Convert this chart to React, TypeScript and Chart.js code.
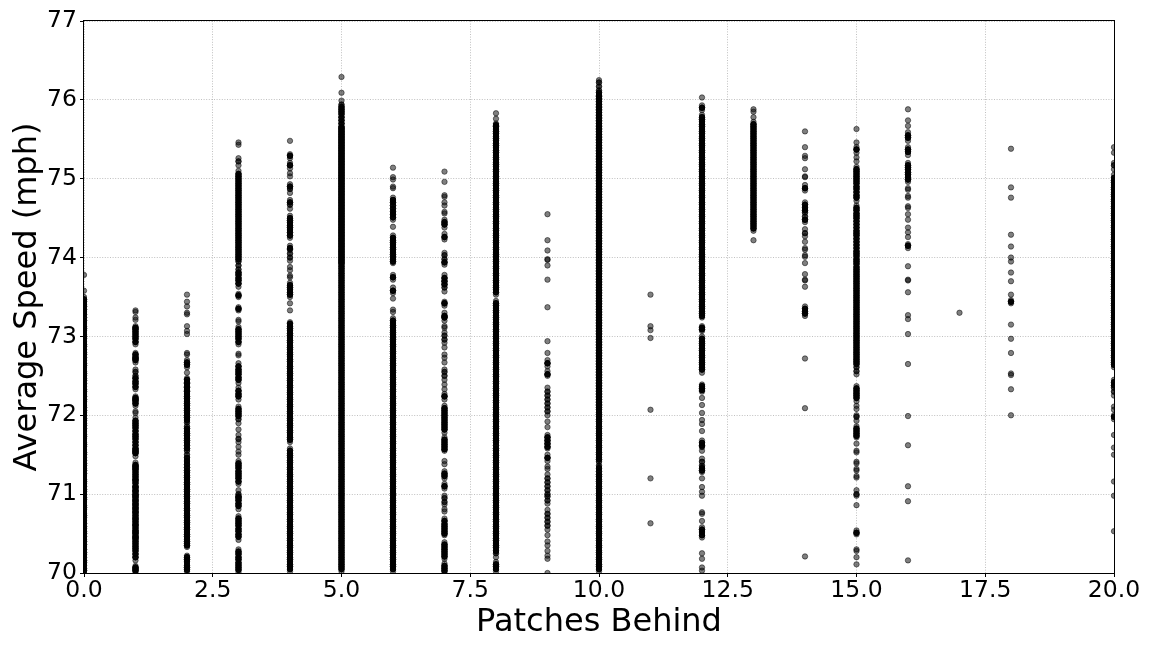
import React, { useEffect, useRef } from "react";
import { Chart, registerables } from "chart.js";

Chart.register(...registerables);

const behind0 = [73.78,73.58,73.5,73.47,73.44,73.41,73.38,73.34,73.31,73.28,73.24,73.2,73.17,73.13,73.1,73.07,73.03,73,72.97,72.93,72.9,72.87,72.83,72.8,72.77,72.73,72.7,72.66,72.63,72.6,72.56,72.53,72.5,72.47,72.44,72.4,72.37,72.33,72.3,72.27,72.24,72.2,72.17,72.13,72.1,72.06,72.03,72,71.96,71.93,71.9,71.87,71.83,71.8,71.76,71.73,71.7,71.66,71.63,71.6,71.56,71.53,71.5,71.46,71.43,71.39,71.36,71.33,71.3,71.26,71.23,71.19,71.16,71.13,71.1,71.06,71.03,71,70.96,70.93,70.9,70.86,70.83,70.8,70.76,70.73,70.7,70.66,70.63,70.59,70.56,70.53,70.5,70.46,70.43,70.4,70.36,70.33,70.3,70.26,70.23,70.2,70.16,70.13,70.1,70.06,70.03,70];
const behind1 = [73.33,73.31,73.24,73.21,73.13,73.11,73.09,73.06,73.03,73,72.97,72.93,72.9,72.79,72.77,72.74,72.72,72.7,72.67,72.58,72.55,72.5,72.47,72.43,72.4,72.36,72.33,72.24,72.22,72.2,72.18,72.15,72.12,72.05,72.03,71.97,71.93,71.9,71.87,71.84,71.8,71.76,71.73,71.7,71.66,71.62,71.58,71.56,71.54,71.52,71.48,71.4,71.37,71.35,71.33,71.31,71.28,71.25,71.22,71.19,71.17,71.14,71.1,71.08,71.05,71.03,71,70.98,70.96,70.93,70.91,70.88,70.86,70.83,70.81,70.78,70.76,70.73,70.7,70.68,70.65,70.62,70.6,70.57,70.54,70.52,70.5,70.47,70.45,70.43,70.4,70.37,70.34,70.31,70.28,70.24,70.2,70.16,70.09,70.07,70.05,70.03,70.01];
const behind2 = [73.53,73.44,73.38,73.3,73.28,73.13,73.07,73.03,72.79,72.77,72.7,72.67,72.64,72.61,72.54,72.47,72.45,72.42,72.4,72.37,72.35,72.32,72.3,72.27,72.24,72.21,72.18,72.15,72.12,72.09,72.06,72.03,72,71.97,71.94,71.91,71.86,71.83,71.8,71.77,71.74,71.71,71.68,71.65,71.62,71.58,71.55,71.5,71.46,71.42,71.38,71.34,71.3,71.27,71.24,71.21,71.18,71.15,71.12,71.09,71.06,71.03,71,70.97,70.94,70.91,70.88,70.85,70.82,70.79,70.76,70.73,70.7,70.67,70.64,70.61,70.58,70.55,70.52,70.49,70.46,70.43,70.4,70.37,70.35,70.33,70.22,70.2,70.17,70.14,70.1,70.07,70.04,70.02];
const behind3 = [75.46,75.43,75.26,75.22,75.17,75.1,75.06,75.03,75,74.97,74.94,74.91,74.88,74.85,74.82,74.79,74.76,74.73,74.7,74.67,74.64,74.61,74.58,74.55,74.52,74.49,74.46,74.43,74.4,74.37,74.34,74.31,74.28,74.25,74.22,74.19,74.16,74.13,74.1,74.07,74.04,74.01,73.98,73.95,73.9,73.85,73.81,73.78,73.74,73.71,73.67,73.63,73.54,73.52,73.5,73.37,73.35,73.33,73.21,73.19,73.12,73.09,73.06,73.03,73,72.97,72.93,72.9,72.78,72.76,72.66,72.62,72.58,72.55,72.52,72.48,72.45,72.41,72.35,72.31,72.27,72.24,72.2,72.11,72.08,72.05,72.02,71.99,71.95,71.9,71.82,71.75,71.7,71.66,71.6,71.54,71.5,71.42,71.39,71.36,71.33,71.29,71.26,71.23,71.2,71.16,71.13,71.05,71,70.97,70.95,70.92,70.88,70.85,70.81,70.72,70.69,70.66,70.63,70.6,70.56,70.53,70.49,70.46,70.42,70.3,70.27,70.24,70.2,70.17,70.13,70.1,70.07,70.04,70.01];
const behind4 = [75.48,75.31,75.29,75.26,75.2,75.17,75.13,75.07,75.03,74.93,74.9,74.87,74.82,74.73,74.7,74.67,74.62,74.53,74.5,74.47,74.44,74.41,74.38,74.35,74.32,74.28,74.25,74.15,74.12,74.1,74.05,74,73.96,73.88,73.84,73.77,73.75,73.68,73.65,73.62,73.59,73.56,73.53,73.5,73.42,73.33,73.18,73.16,73.13,73.1,73.07,73.04,73.01,72.98,72.95,72.92,72.89,72.86,72.83,72.8,72.77,72.74,72.71,72.68,72.65,72.62,72.59,72.56,72.53,72.5,72.47,72.44,72.41,72.38,72.35,72.32,72.29,72.26,72.23,72.2,72.17,72.14,72.11,72.08,72.05,72.02,71.99,71.96,71.93,71.9,71.87,71.84,71.81,71.78,71.75,71.72,71.69,71.66,71.58,71.55,71.52,71.49,71.46,71.43,71.4,71.37,71.34,71.31,71.28,71.25,71.22,71.19,71.16,71.13,71.1,71.07,71.04,71.01,70.98,70.95,70.92,70.89,70.86,70.83,70.8,70.77,70.74,70.71,70.68,70.65,70.62,70.59,70.56,70.53,70.5,70.47,70.44,70.41,70.38,70.35,70.32,70.29,70.26,70.23,70.2,70.17,70.14,70.11,70.08,70.05,70.02];
const behind5 = [76.29,76.09,75.99,75.94,75.91,75.88,75.85,75.82,75.78,75.74,75.7,75.66,75.64,75.62,75.6,75.58,75.56,75.54,75.52,75.5,75.48,75.46,75.44,75.42,75.4,75.38,75.36,75.34,75.32,75.3,75.28,75.26,75.24,75.22,75.2,75.18,75.16,75.14,75.12,75.1,75.08,75.06,75.04,75.02,75,74.98,74.96,74.94,74.92,74.9,74.88,74.86,74.84,74.82,74.8,74.78,74.76,74.74,74.72,74.7,74.68,74.66,74.64,74.62,74.6,74.58,74.56,74.54,74.52,74.5,74.48,74.46,74.44,74.42,74.4,74.38,74.36,74.34,74.32,74.3,74.28,74.26,74.24,74.22,74.2,74.18,74.16,74.14,74.12,74.1,74.08,74.06,74.04,74.02,74,73.98,73.96,73.94,73.92,73.89,73.86,73.83,73.8,73.77,73.74,73.71,73.68,73.65,73.62,73.59,73.56,73.53,73.5,73.47,73.44,73.41,73.38,73.35,73.32,73.29,73.26,73.23,73.2,73.17,73.14,73.11,73.08,73.05,73.02,72.99,72.96,72.93,72.9,72.87,72.84,72.81,72.78,72.75,72.72,72.69,72.66,72.63,72.6,72.57,72.54,72.51,72.48,72.45,72.42,72.39,72.36,72.33,72.3,72.27,72.24,72.21,72.18,72.15,72.12,72.09,72.06,72.03,72,71.97,71.94,71.91,71.88,71.85,71.82,71.79,71.76,71.73,71.7,71.67,71.64,71.61,71.58,71.55,71.52,71.49,71.46,71.43,71.4,71.37,71.34,71.31,71.28,71.25,71.22,71.19,71.16,71.13,71.1,71.07,71.04,71.01,70.98,70.95,70.92,70.89,70.86,70.83,70.8,70.77,70.74,70.71,70.68,70.65,70.62,70.59,70.56,70.53,70.5,70.47,70.44,70.41,70.38,70.35,70.32,70.29,70.26,70.23,70.2,70.17,70.14,70.11,70.08,70.05,70.02];
const behind6 = [75.14,75.02,74.99,74.9,74.88,74.76,74.73,74.7,74.66,74.62,74.58,74.55,74.51,74.48,74.39,74.28,74.25,74.22,74.19,74.16,74.13,74.1,74.07,74.04,74.01,73.98,73.95,73.93,73.78,73.75,73.72,73.62,73.58,73.55,73.48,73.34,73.31,73.23,73.2,73.17,73.14,73.11,73.08,73.05,73.02,72.99,72.96,72.93,72.9,72.87,72.84,72.81,72.78,72.75,72.72,72.69,72.66,72.63,72.6,72.57,72.54,72.51,72.48,72.45,72.42,72.39,72.36,72.33,72.3,72.27,72.24,72.21,72.18,72.15,72.12,72.09,72.06,72.03,72,71.97,71.94,71.91,71.88,71.85,71.82,71.79,71.76,71.73,71.7,71.67,71.64,71.61,71.58,71.55,71.52,71.49,71.46,71.43,71.4,71.37,71.34,71.31,71.28,71.25,71.22,71.19,71.16,71.13,71.1,71.07,71.04,71.01,70.98,70.95,70.92,70.89,70.86,70.83,70.8,70.77,70.74,70.71,70.68,70.65,70.62,70.59,70.56,70.53,70.5,70.47,70.44,70.41,70.38,70.35,70.32,70.29,70.26,70.23,70.2,70.17,70.14,70.11,70.08,70.05,70.02];
const behind7 = [75.09,74.96,74.79,74.77,74.7,74.66,74.58,74.56,74.48,74.45,74.42,74.38,74.3,74.26,74.23,74.06,74.03,73.98,73.94,73.91,73.78,73.74,73.7,73.66,73.62,73.57,73.44,73.42,73.39,73.3,73.26,73.24,73.2,73.13,73.11,73.05,73.01,72.96,72.92,72.86,72.77,72.73,72.67,72.58,72.55,72.5,72.45,72.39,72.33,72.27,72.24,72.2,72.12,72.09,72.06,72.03,72,71.97,71.94,71.91,71.88,71.85,71.82,71.78,71.72,71.69,71.66,71.63,71.6,71.57,71.55,71.42,71.38,71.29,71.26,71.23,71.2,71.13,71.1,71.07,70.98,70.95,70.9,70.87,70.81,70.78,70.69,70.66,70.62,70.59,70.56,70.53,70.5,70.48,70.39,70.36,70.33,70.3,70.27,70.24,70.21,70.18,70.12,70.09,70.06,70.03,70.01];
const behind8 = [75.83,75.76,75.7,75.68,75.66,75.63,75.6,75.57,75.54,75.51,75.48,75.45,75.42,75.39,75.36,75.33,75.3,75.27,75.24,75.21,75.18,75.15,75.12,75.09,75.06,75.03,75,74.97,74.94,74.91,74.88,74.85,74.82,74.79,74.76,74.73,74.7,74.67,74.64,74.61,74.58,74.55,74.52,74.49,74.46,74.43,74.4,74.37,74.34,74.31,74.28,74.25,74.22,74.19,74.16,74.13,74.1,74.07,74.04,74.01,73.98,73.95,73.92,73.89,73.86,73.83,73.8,73.77,73.74,73.71,73.68,73.65,73.62,73.59,73.56,73.53,73.45,73.42,73.39,73.36,73.33,73.3,73.27,73.24,73.21,73.18,73.15,73.12,73.09,73.06,73.03,73,72.97,72.94,72.91,72.88,72.85,72.82,72.79,72.76,72.73,72.7,72.67,72.64,72.61,72.58,72.55,72.52,72.49,72.46,72.43,72.4,72.37,72.34,72.31,72.28,72.25,72.22,72.19,72.16,72.13,72.1,72.07,72.04,72.01,71.98,71.95,71.92,71.89,71.86,71.83,71.8,71.77,71.74,71.71,71.68,71.66,71.62,71.58,71.55,71.52,71.49,71.46,71.43,71.4,71.37,71.34,71.31,71.28,71.25,71.22,71.19,71.16,71.13,71.1,71.07,71.04,71.01,70.98,70.95,70.92,70.89,70.86,70.83,70.8,70.77,70.74,70.71,70.68,70.65,70.62,70.59,70.56,70.53,70.5,70.47,70.44,70.41,70.38,70.35,70.32,70.28,70.25,70.2,70.14,70.11,70.08,70.05,70.02];
const behind9 = [74.55,74.22,74.09,73.98,73.97,73.9,73.72,73.37,72.94,72.79,72.7,72.66,72.62,72.56,72.52,72.5,72.35,72.3,72.25,72.2,72.15,72.1,72.05,72,71.92,71.85,71.75,71.72,71.68,71.64,71.6,71.58,71.5,71.46,71.42,71.35,71.32,71.25,71.2,71.15,71.1,71.05,71,70.97,70.92,70.88,70.8,70.75,70.7,70.65,70.6,70.55,70.48,70.4,70.35,70.28,70.22,70.18,70];
const behind10 = [76.25,76.22,76.17,76.12,76.09,76.06,76.04,76.02,76,75.98,75.96,75.94,75.92,75.9,75.88,75.86,75.84,75.82,75.8,75.78,75.76,75.74,75.72,75.7,75.68,75.66,75.64,75.62,75.6,75.58,75.56,75.54,75.52,75.5,75.48,75.46,75.44,75.42,75.4,75.38,75.36,75.34,75.32,75.3,75.28,75.26,75.24,75.22,75.2,75.18,75.16,75.14,75.12,75.1,75.08,75.06,75.04,75.02,75,74.98,74.96,74.94,74.92,74.9,74.88,74.86,74.84,74.82,74.8,74.78,74.76,74.74,74.72,74.7,74.68,74.66,74.64,74.62,74.6,74.58,74.56,74.54,74.52,74.5,74.48,74.46,74.44,74.42,74.4,74.38,74.36,74.34,74.32,74.3,74.28,74.26,74.24,74.22,74.2,74.18,74.16,74.14,74.12,74.1,74.08,74.06,74.04,74.02,74,73.98,73.96,73.94,73.92,73.9,73.88,73.86,73.84,73.82,73.8,73.78,73.76,73.74,73.72,73.7,73.68,73.66,73.64,73.62,73.6,73.58,73.56,73.54,73.52,73.5,73.48,73.46,73.44,73.42,73.4,73.38,73.36,73.34,73.32,73.3,73.28,73.26,73.24,73.22,73.2,73.18,73.16,73.14,73.12,73.1,73.08,73.06,73.04,73.02,73,72.98,72.96,72.94,72.92,72.9,72.88,72.86,72.84,72.82,72.8,72.78,72.76,72.74,72.72,72.7,72.68,72.66,72.64,72.62,72.6,72.58,72.56,72.54,72.52,72.5,72.48,72.46,72.44,72.42,72.4,72.38,72.36,72.34,72.32,72.3,72.28,72.26,72.24,72.22,72.2,72.18,72.16,72.14,72.12,72.1,72.07,72.04,72.01,71.98,71.95,71.92,71.89,71.86,71.83,71.8,71.77,71.74,71.71,71.68,71.65,71.62,71.59,71.56,71.53,71.5,71.47,71.44,71.41,71.36,71.33,71.29,71.25,71.22,71.19,71.16,71.13,71.1,71.07,71.04,71.01,70.98,70.95,70.92,70.89,70.86,70.83,70.8,70.77,70.74,70.71,70.68,70.65,70.62,70.59,70.56,70.53,70.5,70.47,70.44,70.41,70.38,70.35,70.32,70.29,70.26,70.23,70.2,70.17,70.14,70.11,70.08,70.05,70.02];
const behind11 = [73.53,73.13,73.08,72.98,72.07,71.2,70.63];
const behind12 = [76.03,75.93,75.9,75.87,75.81,75.78,75.75,75.72,75.69,75.66,75.63,75.6,75.57,75.54,75.51,75.48,75.45,75.42,75.39,75.36,75.33,75.3,75.27,75.24,75.21,75.18,75.15,75.12,75.09,75.06,75.03,75,74.97,74.94,74.91,74.88,74.85,74.82,74.79,74.76,74.73,74.7,74.67,74.64,74.61,74.58,74.55,74.52,74.49,74.46,74.43,74.4,74.37,74.34,74.31,74.28,74.25,74.22,74.19,74.16,74.13,74.1,74.07,74.04,74.01,73.98,73.95,73.92,73.89,73.86,73.83,73.8,73.77,73.74,73.71,73.68,73.65,73.62,73.59,73.56,73.53,73.5,73.47,73.44,73.41,73.38,73.35,73.32,73.29,73.26,73.24,73.13,73.11,73.09,73.07,73,72.97,72.94,72.91,72.88,72.85,72.82,72.79,72.76,72.73,72.7,72.67,72.64,72.61,72.58,72.54,72.39,72.37,72.34,72.32,72.3,72.22,72.13,72.03,71.94,71.89,71.8,71.68,71.65,71.62,71.6,71.55,71.45,71.41,71.36,71.33,71.3,71.28,71.2,71.09,71.03,70.98,70.77,70.75,70.66,70.58,70.55,70.52,70.48,70.45,70.25,70.18,70.07,70.03];
const behind13 = [75.88,75.85,75.78,75.72,75.69,75.66,75.63,75.6,75.57,75.54,75.51,75.48,75.45,75.42,75.39,75.36,75.33,75.3,75.27,75.24,75.21,75.18,75.15,75.12,75.09,75.06,75.03,75,74.97,74.94,74.91,74.88,74.85,74.82,74.79,74.76,74.73,74.7,74.67,74.64,74.61,74.58,74.55,74.52,74.49,74.46,74.43,74.4,74.37,74.34,74.22];
const behind14 = [75.6,75.4,75.29,75.26,75.12,75.03,75.02,74.92,74.88,74.85,74.7,74.67,74.63,74.6,74.57,74.52,74.48,74.45,74.36,74.31,74.27,74.2,74.12,74.1,74.03,74.01,73.93,73.79,73.72,73.71,73.63,73.38,73.35,73.32,73.29,73.26,72.72,72.09,70.21];
const behind15 = [75.63,75.46,75.4,75.37,75.33,75.27,75.22,75.15,75.12,75.09,75.06,75.03,75,74.97,74.94,74.9,74.87,74.83,74.79,74.76,74.72,74.66,74.63,74.6,74.56,74.53,74.5,74.46,74.42,74.38,74.34,74.31,74.28,74.24,74.2,74.16,74.12,74.08,74.05,74.02,73.98,73.95,73.92,73.88,73.85,73.82,73.79,73.76,73.73,73.7,73.67,73.64,73.61,73.58,73.55,73.52,73.49,73.46,73.43,73.4,73.37,73.34,73.31,73.28,73.25,73.22,73.19,73.16,73.13,73.1,73.07,73.04,73.01,72.98,72.95,72.92,72.89,72.86,72.83,72.8,72.77,72.74,72.71,72.68,72.65,72.61,72.56,72.52,72.37,72.34,72.31,72.28,72.25,72.22,72.18,72.12,72.08,72,71.98,71.93,71.86,71.83,71.8,71.77,71.74,71.72,71.64,71.55,71.53,71.41,71.39,71.32,71.3,71.23,71.21,71.05,71,70.98,70.86,70.54,70.51,70.49,70.3,70.28,70.2,70.11];
const behind16 = [75.88,75.74,75.67,75.59,75.55,75.52,75.48,75.4,75.37,75.34,75.3,75.2,75.17,75.14,75.12,75.08,75.05,75.02,74.99,74.96,74.88,74.86,74.78,74.76,74.65,74.63,74.55,74.48,74.38,74.32,74.26,74.17,74.15,74.12,73.89,73.72,73.71,73.56,73.27,73.22,73.03,72.65,71.99,71.62,71.1,70.91,70.16];
const behind17 = [73.3];
const behind18 = [75.38,74.89,74.76,74.29,74.14,74,73.95,73.81,73.7,73.53,73.46,73.44,73.42,73.15,72.97,72.79,72.53,72.51,72.33,72];
const behind20 = [75.4,75.33,75.2,75.17,75.12,75.05,75.01,74.98,74.95,74.92,74.89,74.86,74.83,74.8,74.77,74.74,74.71,74.68,74.65,74.62,74.59,74.56,74.53,74.5,74.47,74.44,74.41,74.38,74.35,74.32,74.29,74.26,74.23,74.2,74.17,74.14,74.11,74.08,74.05,74.02,73.99,73.96,73.93,73.9,73.87,73.84,73.81,73.78,73.75,73.72,73.69,73.66,73.63,73.6,73.57,73.54,73.51,73.48,73.45,73.42,73.39,73.36,73.33,73.3,73.27,73.24,73.21,73.18,73.15,73.12,73.09,73.06,73.03,73,72.97,72.94,72.91,72.88,72.85,72.82,72.79,72.76,72.73,72.7,72.67,72.64,72.61,72.45,72.42,72.38,72.35,72.3,72.25,72.11,72.07,72,71.98,71.95,71.75,71.59,71.5,71.16,70.98,70.53];

const patchesBehind = [0,1,2,3,4,5,6,7,8,9,10,11,12,13,14,15,16,17,18,20];
const speedColumns = [behind0,behind1,behind2,behind3,behind4,behind5,behind6,behind7,behind8,behind9,behind10,behind11,behind12,behind13,behind14,behind15,behind16,behind17,behind18,behind20];

const xAxisTitle = "Patches Behind";
const yAxisTitle = "Average Speed (mph)";

const framePlugin = {
  id: "frame",
  afterDraw(chart: any) {
    const { ctx, chartArea: a } = chart;
    ctx.save();
    ctx.strokeStyle = "#000";
    ctx.lineWidth = 1;
    ctx.strokeRect(Math.round(a.left) - 0.5, Math.round(a.top) - 0.5, Math.round(a.right - a.left) + 1, Math.round(a.bottom - a.top) + 1);
    ctx.restore();
  },
};

// Points inside a run of close readings overprint many times in the original.
function overprinted(gap: number) {
  return patchesBehind.flatMap((x, i) =>
    speedColumns[i]
      .filter((y, k, col) => k > 0 && k < col.length - 1 && col[k - 1] - y <= gap && y - col[k + 1] <= gap)
      .map((y) => ({ x, y })),
  );
}

export default function App() {
  const ref = useRef<HTMLCanvasElement | null>(null);
  useEffect(() => {
    document.body.style.margin = "0";
    const points = patchesBehind.flatMap((x, i) => speedColumns[i].map((y) => ({ x, y })));
    const font = "'DejaVu Sans'";
    const grid = { color: "#b0b0b0", lineWidth: 0.8, tickColor: "#000", tickLength: 4, tickWidth: 1 };
    const border = { display: false, dash: [1, 1.6] };
    const style = {
      clip: 0,
      backgroundColor: "rgba(0,0,0,0.5)",
      borderColor: "rgba(0,0,0,0.5)",
      borderWidth: 1,
      pointRadius: 2.7,
      pointHoverRadius: 2.7,
    };
    const chart = new Chart(ref.current!, {
      type: "scatter",
      data: {
        datasets: [
          { ...style, data: points },
          { ...style, data: overprinted(0.056) },
          { ...style, data: overprinted(0.041) },
          { ...style, data: overprinted(0.041) },
        ],
      },
      plugins: [framePlugin],
      options: {
        animation: false,
        responsive: false,
        events: [],
        layout: { padding: { left: 0, right: 38, top: 21, bottom: 0 } },
        plugins: { legend: { display: false }, tooltip: { enabled: false } },
        scales: {
          x: {
            type: "linear", min: 0, max: 20,
            grid, border,
            afterFit(s: any) { s.height = 75; },
            ticks: { stepSize: 2.5, maxRotation: 0, color: "#000", padding: 0, font: { family: font, size: 23.5 }, callback: (v: any) => Number(v).toFixed(1) },
            title: { display: true, text: xAxisTitle, color: "#000", font: { family: font, size: 32 }, padding: { top: 0, bottom: 6 } },
          },
          y: {
            type: "linear", min: 70, max: 77,
            grid, border,
            afterFit(s: any) { s.width = 84; },
            ticks: { stepSize: 1, color: "#000", padding: 3, font: { family: font, size: 23.5 }, callback: (v: any) => String(v) },
            title: { display: true, text: yAxisTitle, color: "#000", font: { family: font, size: 32 }, padding: { top: 8, bottom: 0 } },
          },
        },
      } as any,
    });
    return () => chart.destroy();
  }, []);
  return <canvas ref={ref} width={1152} height={648} style={{ display: "block" }} />;
}
